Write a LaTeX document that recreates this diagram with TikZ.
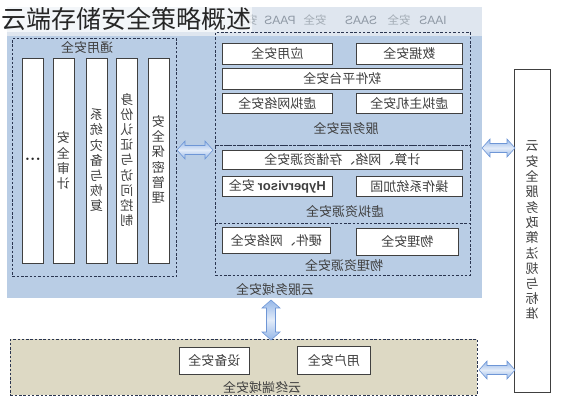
\documentclass[tikz,border=0pt]{standalone}
\usepackage{fontspec}
\usepackage{graphicx}
\newfontfamily\cjk{Noto Sans CJK SC}
\newfontfamily\arialf{Liberation Sans}
\definecolor{bandc}{HTML}{DFE6EF}
\definecolor{bluec}{HTML}{B9CDE5}
\definecolor{beigec}{HTML}{DDD9C4}
\definecolor{dashc}{HTML}{2A3550}
\definecolor{txtc}{HTML}{404040}
\definecolor{bandtxt}{HTML}{8E98A4}
\definecolor{arrowfill}{HTML}{95B7E8}
\definecolor{arrowlight}{HTML}{E3ECF9}
\definecolor{arrowline}{HTML}{6E96D6}
\newcommand{\mir}[1]{\reflectbox{#1}}
\newcommand{\vtxt}[1]{\reflectbox{\begin{tabular}{@{}c@{}}#1\end{tabular}}}
% double arrow: #1 centre coordinate name, #2 half length, #3 rotation
\newcommand{\dblarrow}[3]{%
  \draw[arrowbody, shift={(#1)}, rotate=#3]
    (-#2,0) -- (-#2+8,-9) -- (-#2+8,-4.5) -- (#2-8,-4.5) -- (#2-8,-9) -- (#2,0)
    -- (#2-8,9) -- (#2-8,4.5) -- (-#2+8,4.5) -- (-#2+8,9) -- cycle;}
\begin{document}
\begin{tikzpicture}[x=1pt,y=-1pt,
  box/.style={draw=black!75, line width=0.8pt, fill=white, inner sep=0pt, anchor=north west,
    font=\cjk\fontsize{13}{14.6}\selectfont, text=txtc},
  dbox/.style={draw=dashc, line width=0.8pt, dash pattern=on 2.5pt off 1.8pt, inner sep=0pt, anchor=north west},
  lbl/.style={font=\cjk\fontsize{13}{14.6}\selectfont, text=txtc, inner sep=0pt},
  bandlbl/.style={font=\arialf\fontsize{12}{14}\selectfont, text=bandtxt, inner sep=0pt},
  bandcn/.style={font=\cjk\fontsize{11.5}{13}\selectfont, text=bandtxt!80, inner sep=0pt},
  arrowbody/.style={draw=arrowline, line width=0.6pt, top color=arrowfill,
    bottom color=arrowfill, middle color=arrowlight, line join=miter},
]
\useasboundingbox (0,0) rectangle (561,400);
% backgrounds
\node[fill=bandc, inner sep=0pt, anchor=north west, minimum width=475pt, minimum height=29pt] (band) at (7,7) {};
\node[fill=bluec, inner sep=0pt, anchor=north west, minimum width=475pt, minimum height=262pt] (cloud) at (7,36) {};
% band texts
\node[bandlbl] (b1) at (433,20) {\mir{IAAS}};
\node[bandcn]  (b2) at (399,20) {\mir{安全}};
\node[bandlbl] (b3) at (361,20) {\mir{SAAS}};
\node[bandcn]  (b4) at (315,20) {\mir{安全}};
\node[bandlbl] (b5) at (280,20) {\mir{PAAS}};
\node[bandcn]  (b6) at (246,20) {\mir{安全}};
% title
\node[font=\cjk\fontsize{25}{28}\selectfont, anchor=west, inner sep=1pt, fill=white,
  fill opacity=0.65, text opacity=1, text=black!85] (title) at (0,19) {云端存储安全策略概述};
% general security
\node[dbox, minimum width=164pt, minimum height=238pt] (gen) at (12,38) {};
\node[lbl] (genl) at (87,48) {\mir{通用安全}};
\node[box, minimum width=21pt, minimum height=205pt] (bar1) at (22,58) {};
\node[box, minimum width=21pt, minimum height=205pt] (bar2) at (52.5,58) {};
\node[box, minimum width=21pt, minimum height=205pt] (bar3) at (85.5,58) {};
\node[box, minimum width=21pt, minimum height=205pt] (bar4) at (116,58) {};
\node[box, minimum width=21pt, minimum height=205pt] (bar5) at (147.5,58) {};
\node[lbl, font=\bfseries\fontsize{17}{18}\selectfont, text=black!85] (t1) at ([yshift=2pt]bar1.center) {...};
\node[lbl] (t2) at ([yshift=-1.5pt]bar2.center) {\vtxt{安\\全\\审\\计}};
\node[lbl] (t3) at ([yshift=-1pt]bar3.center) {\vtxt{系\\统\\灾\\备\\与\\恢\\复}};
\node[lbl] (t4) at ([yshift=-1pt]bar4.center) {\vtxt{身\\份\\认\\证\\与\\访\\问\\控\\制}};
\node[lbl] (t5) at (bar5.center) {\vtxt{安\\全\\保\\密\\管\\理}};
% service layer
\node[dbox, minimum width=255pt, minimum height=113pt] (svc) at (215,32) {};
\node[box, minimum width=110pt, minimum height=21pt] (app) at (222,43) {\mir{应用安全}};
\node[box, minimum width=106pt, minimum height=21pt] (data) at (356,43) {\mir{数据安全}};
\node[box, minimum width=240pt, minimum height=21pt] (soft) at (222,68) {\mir{软件平台安全}};
\node[box, minimum width=110pt, minimum height=20pt] (vnet) at (222,93) {\mir{虚拟网络安全}};
\node[box, minimum width=106pt, minimum height=20pt] (vhost) at (356,93) {\mir{虚拟主机安全}};
\node[lbl] (svcl) at (346,129) {\mir{服务层安全}};
% resource layer
\node[dbox, minimum width=255pt, minimum height=130pt] (res) at (215,145) {};
\coordinate (sepL) at (215,223);
\coordinate (sepR) at (470,223);
\draw[draw=dashc, line width=0.8pt, dash pattern=on 2.5pt off 1.8pt] (sepL) -- (sepR);
\node[box, minimum width=240pt, minimum height=19pt] (comp) at (222,150) {\mir{计算、网络、存储资源安全}};
\node[box, minimum width=110pt, minimum height=20pt] (hyp) at (222,176) {\mir{{\arialf\bfseries Hypervisor} 安全}};
\node[box, minimum width=106pt, minimum height=20pt] (os) at (356,176) {\mir{操作系统加固}};
\node[lbl] (virl) at (345,211) {\mir{虚拟资源安全}};
\node[box, minimum width=108pt, minimum height=26pt] (hw) at (222,227) {\mir{硬件、网络安全}};
\node[box, minimum width=102pt, minimum height=27pt] (phy) at (356,228) {\mir{物理安全}};
\node[lbl] (phyl) at (344,265) {\mir{物理资源安全}};
\node[lbl] (cloudl) at (275,289) {\mir{云服务域安全}};
% right standards box
\node[box, minimum width=36pt, minimum height=323pt] (std) at (514,69) {};
\node[lbl, font=\cjk\fontsize{13}{14.75}\selectfont] (stdl) at (532,232) {\vtxt{云\\安\\全\\服\\务\\政\\策\\法\\规\\与\\标\\准}};
% terminal domain
\node[dbox, fill=beigec, minimum width=467pt, minimum height=56pt] (term) at (10,339) {};
\node[box, minimum width=70pt, minimum height=27pt] (dev) at (179,347) {\mir{设备安全}};
\node[box, minimum width=73pt, minimum height=28pt] (user) at (297,346) {\mir{用户安全}};
\node[lbl] (terml) at (262,387) {\mir{云终端域安全}};
% arrows
\coordinate (a1) at (195,150);
\coordinate (a2) at (498.5,148);
\coordinate (a3) at (497,370);
\coordinate (a4) at (271,320);
\dblarrow{a1}{18}{0}
\dblarrow{a2}{16.5}{0}
\dblarrow{a3}{18}{0}
\dblarrow{a4}{20}{90}
\end{tikzpicture}
\end{document}
